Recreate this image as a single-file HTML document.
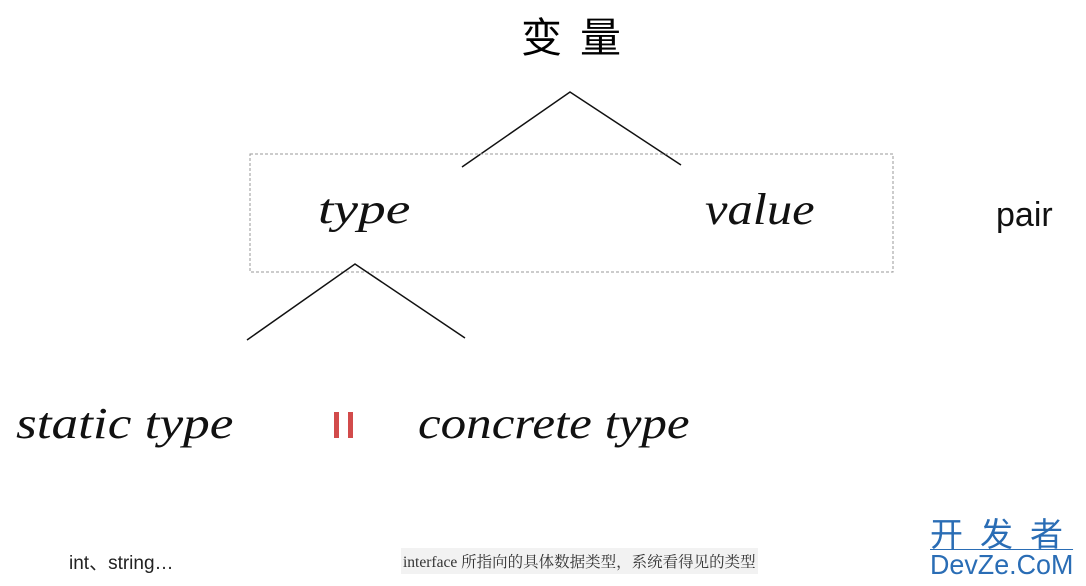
<!DOCTYPE html>
<html><head><meta charset="utf-8"><style>
body{margin:0;width:1086px;height:586px;background:#fff;position:relative;overflow:hidden;font-family:"Liberation Sans","Noto Sans CJK SC",sans-serif}
.t{position:absolute;white-space:nowrap}
.it{font-family:"Liberation Serif",serif;font-style:italic;color:#111;transform-origin:0 0}
</style></head><body>
<svg width="1086" height="586" style="position:absolute;left:0;top:0">
<polyline points="462,167 570,92 681,165" fill="none" stroke="#111" stroke-width="1.5"/>
<rect x="250" y="154" width="643" height="118" fill="none" stroke="#999" stroke-width="1" stroke-dasharray="3,2"/>
<polyline points="247,340 355,264 465,338" fill="none" stroke="#111" stroke-width="1.5"/>
<rect x="334" y="412" width="5" height="26" fill="#d24b4b"/>
<rect x="348" y="412" width="5" height="26" fill="#d24b4b"/>
</svg>
<div class="t" style="left:521px;top:4px;font-size:41px;letter-spacing:18px;font-family:'Noto Sans CJK SC',sans-serif">变量</div>
<div class="t it" style="left:318px;top:186px;font-size:42px;transform:scaleX(1.32)">type</div>
<div class="t it" style="left:705px;top:184px;font-size:44px;transform:scaleX(1.15)">value</div>
<div class="t" style="left:996px;top:196px;font-size:34px;color:#111">pair</div>
<div class="t it" style="left:16px;top:398px;font-size:44px;transform:scaleX(1.21)">static type</div>
<div class="t it" style="left:418px;top:398px;font-size:44px;transform:scaleX(1.16)">concrete type</div>
<div class="t" style="left:69px;top:548px;font-size:19px;color:#222">int、string…</div>
<div class="t" style="left:401px;top:548px;font-size:15.5px;color:#333;background:#f2f2f2;padding:2px 2px;font-family:'Liberation Serif','Noto Serif CJK SC',serif">interface 所指向的具体数据类型，系统看得见的类型</div>
<div class="t" style="left:930px;top:514px;font-size:33px;color:#2a6db5;letter-spacing:17px;font-family:'Noto Sans CJK SC',sans-serif;line-height:36px">开发者</div>
<div class="t" style="left:930px;top:549px;font-size:28px;color:#2a6db5;border-top:1px solid #2a6db5;line-height:30px;transform:scaleX(0.96);transform-origin:0 0">DevZe.CoM</div>
</body></html>
